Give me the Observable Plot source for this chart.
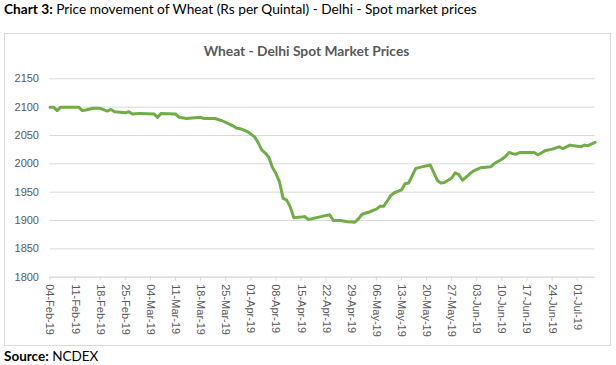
<!DOCTYPE html>
<html>
<head>
<meta charset="utf-8">
<script src="https://cdn.jsdelivr.net/npm/d3@7"></script>
<script src="https://cdn.jsdelivr.net/npm/@observablehq/plot@0.6"></script>
<style>
  html, body { margin: 0; padding: 0; background: #fff; }
  #wrap { position: relative; width: 616px; height: 365px; overflow: hidden; }
  #box { position: absolute; left: 4px; top: 33px; width: 605px; height: 311px; border: 1px solid #d9d9d9; }
  #hdr { position: absolute; left: 4px; top: 0px; font-family: Lato, "Open Sans", sans-serif; font-size: 13.7px; color: #000; white-space: nowrap; }
  #ttl { position: absolute; left: 0; width: 613px; top: 42px; text-align: center; font-family: Lato, "Open Sans", sans-serif; font-weight: bold; font-size: 13.8px; color: #595959; }
  #src { position: absolute; left: 4px; top: 348px; font-family: Lato, "Open Sans", sans-serif; font-size: 13.5px; color: #000; white-space: nowrap; }
  #chart { position: absolute; left: 0; top: 0; }
  #chart svg, #chart svg text { font-family: "Liberation Sans", Arial, sans-serif !important; }
</style>
</head>
<body>
<div id="wrap">
  <div id="box"></div>
  <div id="chart"></div>
  <div id="hdr"><b>Chart 3:</b> Price movement of Wheat (Rs per Quintal) - Delhi - Spot market prices</div>
  <div id="ttl">Wheat - Delhi Spot Market Prices</div>
  <div id="src"><b>Source:</b> NCDEX</div>
</div>
<script>
const dates = [
  "2019-02-04","2019-02-05","2019-02-06","2019-02-07","2019-02-12","2019-02-13","2019-02-14","2019-02-16",
  "2019-02-18","2019-02-20","2019-02-21","2019-02-22","2019-02-25","2019-02-26","2019-02-27","2019-03-01",
  "2019-03-05","2019-03-06","2019-03-07","2019-03-11","2019-03-12","2019-03-14","2019-03-18","2019-03-19",
  "2019-03-22","2019-03-24","2019-03-26","2019-03-27","2019-03-28","2019-03-29","2019-03-31","2019-04-02",
  "2019-04-03","2019-04-04","2019-04-05","2019-04-06","2019-04-07","2019-04-08","2019-04-09","2019-04-10",
  "2019-04-11","2019-04-12","2019-04-13","2019-04-15","2019-04-16","2019-04-17","2019-04-18","2019-04-20",
  "2019-04-22","2019-04-23","2019-04-24","2019-04-26","2019-04-28","2019-04-30","2019-05-01","2019-05-02",
  "2019-05-04","2019-05-06","2019-05-07","2019-05-08","2019-05-09","2019-05-10","2019-05-11","2019-05-13",
  "2019-05-14","2019-05-15","2019-05-16","2019-05-17","2019-05-19","2019-05-21","2019-05-22","2019-05-23",
  "2019-05-24","2019-05-25","2019-05-27","2019-05-28","2019-05-29","2019-05-30","2019-06-01","2019-06-02",
  "2019-06-04","2019-06-07","2019-06-08","2019-06-10","2019-06-11","2019-06-12","2019-06-13","2019-06-14",
  "2019-06-15","2019-06-19","2019-06-20","2019-06-21","2019-06-22","2019-06-24","2019-06-26","2019-06-27",
  "2019-06-29","2019-07-01","2019-07-02","2019-07-03","2019-07-04","2019-07-06"
];
const prices = [
  2100,2100,2094,2100,2100,2094,2095,2098,
  2098,2093,2096,2092,2090,2092,2088,2089,
  2088,2082,2089,2088,2082,2080,2082,2080,
  2080,2076,2070,2067,2063,2062,2057,2048,
  2038,2025,2019,2012,1994,1983,1968,1939,
  1936,1924,1905,1906,1907,1902,1903,1906,
  1909,1910,1900,1900,1898,1897,1903,1911,
  1915,1920,1925,1925,1934,1944,1949,1954,
  1965,1966,1979,1992,1995,1998,1985,1971,
  1966,1967,1975,1984,1981,1971,1982,1987,
  1993,1995,2001,2008,2013,2020,2018,2017,
  2020,2020,2016,2019,2023,2026,2030,2027,
  2033,2031,2030,2033,2032,2038
];
const tickDates = [
  "2019-02-04","2019-02-11","2019-02-18","2019-02-25","2019-03-04","2019-03-11","2019-03-18","2019-03-25",
  "2019-04-01","2019-04-08","2019-04-15","2019-04-22","2019-04-29","2019-05-06","2019-05-13","2019-05-20",
  "2019-05-27","2019-06-03","2019-06-10","2019-06-17","2019-06-24","2019-07-01"
];
const yTicks = [1800, 1850, 1900, 1950, 2000, 2050, 2100, 2150];
const xDomain = ["2019-02-04", "2019-07-06"];

const data = dates.map((d, i) => ({date: new Date(d), price: prices[i]}));
const fmt = d3.utcFormat("%d-%b-%y");

const chart = Plot.plot({
  width: 616,
  height: 365,
  marginLeft: 49.5,
  marginRight: 21.4,
  marginTop: 78.3,
  marginBottom: 88.3,
  style: {background: "transparent", fontSize: "11px", overflow: "visible"},
  x: {type: "utc", domain: xDomain.map(d => new Date(d))},
  y: {domain: [1800, 2150]},
  marks: [
    Plot.gridY(yTicks, {stroke: "#d9d9d9", strokeOpacity: 1, strokeWidth: 1}),
    Plot.ruleY([1800], {stroke: "#d9d9d9", strokeWidth: 1}),
    Plot.axisY(yTicks, {tickSize: 0, tickPadding: 11, fill: "#595959", fontSize: 11, tickFormat: d => String(d), label: null}),
    Plot.axisX(tickDates.map(d => new Date(d)), {
      tickRotate: 90, tickSize: 4, tickPadding: 3, stroke: "#d9d9d9", fill: "#595959",
      fontSize: 11, tickFormat: fmt, label: null
    }),
    Plot.line(data, {x: "date", y: "price", stroke: "#70ad47", strokeWidth: 3, strokeLinejoin: "round", strokeLinecap: "round"})
  ]
});
document.getElementById("chart").appendChild(chart);
</script>
</body>
</html>
